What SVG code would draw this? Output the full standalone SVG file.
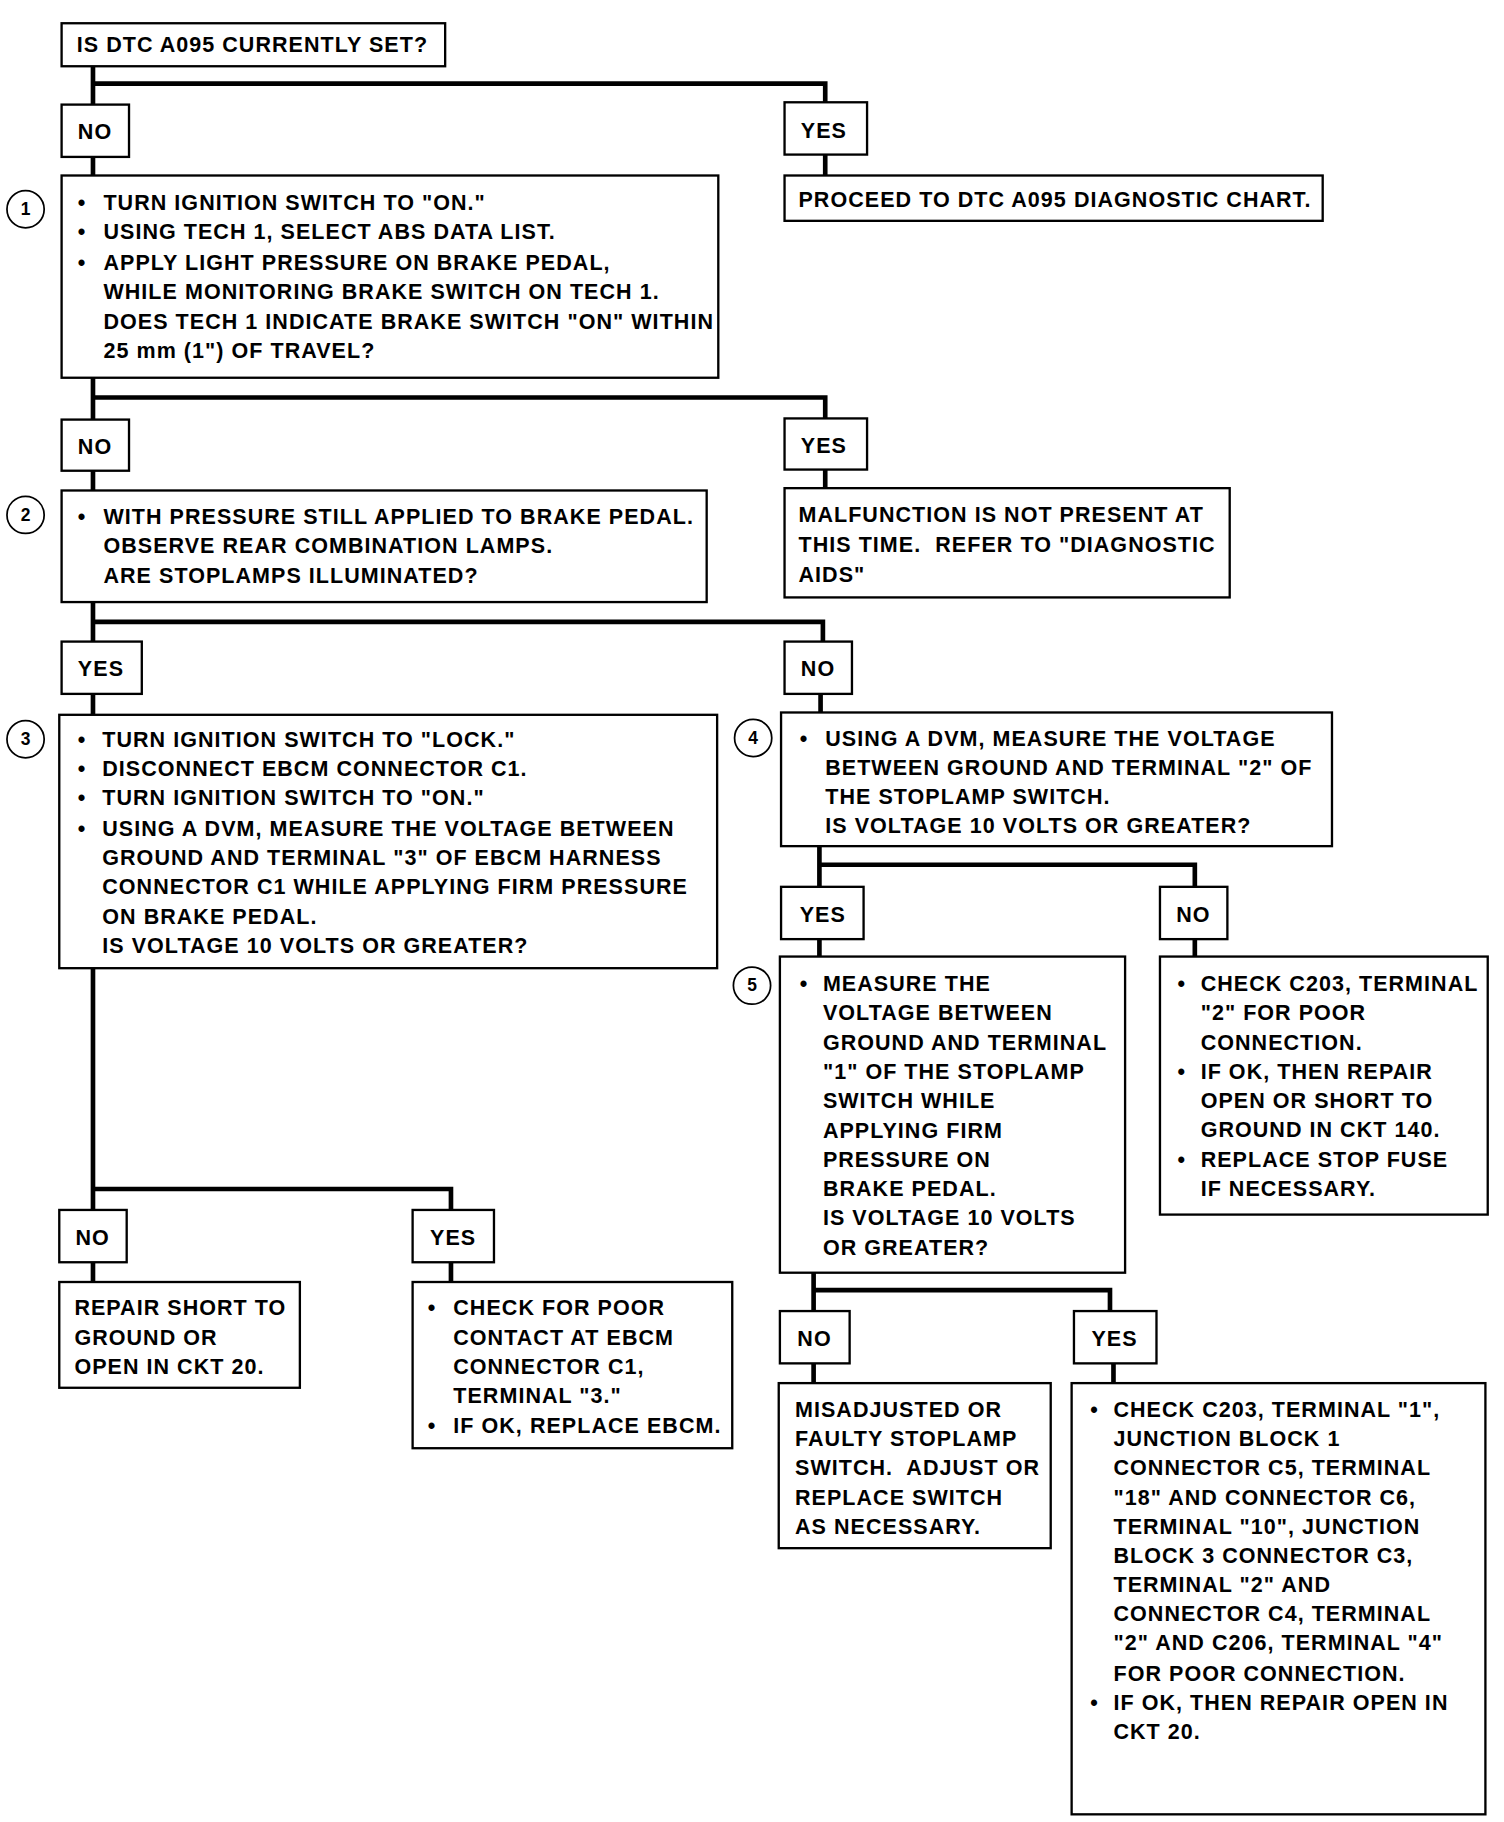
<svg xmlns="http://www.w3.org/2000/svg" width="1504" height="1822" viewBox="0 0 1504 1822">
<style>
.box{fill:#fff;stroke:#000;stroke-width:2}
.t{font-family:"Liberation Sans",Arial,sans-serif;font-weight:bold;font-size:18.5px;letter-spacing:0.9px;fill:#000}
.conn{stroke:#000;stroke-width:4;fill:none}
.num{fill:#fff;stroke:#000;stroke-width:1.5}
.n{font-family:"Liberation Sans",Arial,sans-serif;font-weight:bold;font-size:15px;fill:#000;text-anchor:middle}
</style>
<rect width="1504" height="1822" fill="#fff"/>
<g transform="scale(1.16229)">
<g id="connectors">
<path class="conn" d="M80 57 V90 M80 72 H710 V88 M80 135 V151 M710 133 V151"/>
<path class="conn" d="M80 325 V361 M80 342 H710 V360 M80 405 V422 M710 404 V420"/>
<path class="conn" d="M80 518 V552 M80 535 H708 V552 M80 597 V615 M706 597 V613"/>
<path class="conn" d="M80 833 V1041 M80 1023 H388 V1041 M80 1086 V1103 M388 1086 V1103"/>
<path class="conn" d="M705 728 V763 M705 744 H1028 V763 M705 808 V823 M1028 808 V823"/>
<path class="conn" d="M700 1095 V1128 M700 1110 H955 V1129 M700 1173 V1190 M958 1173 V1190"/>
</g>
<g id="start"><rect class="box" x="53" y="20" width="330" height="37"/><text class="t" x="66" y="45">IS DTC A095 CURRENTLY SET?</text></g>
<g id="no1"><rect class="box" x="53" y="90" width="58" height="45"/><text class="t" x="67" y="120">NO</text></g>
<g id="yes1"><rect class="box" x="675" y="88" width="71" height="45"/><text class="t" x="689" y="119">YES</text></g>
<g id="proceed"><rect class="box" x="675" y="151" width="463" height="39"/><text class="t" x="687" y="178">PROCEED TO DTC A095 DIAGNOSTIC CHART.</text></g>
<g id="step1">
<rect class="box" x="53" y="151" width="565" height="174"/>
<circle class="num" cx="22" cy="180" r="16"/><text class="n" x="22" y="185">1</text>
<text class="t" x="67" y="181">•</text><text class="t" x="89" y="181">TURN IGNITION SWITCH TO "ON."</text>
<text class="t" x="67" y="206">•</text><text class="t" x="89" y="206">USING TECH 1, SELECT ABS DATA LIST.</text>
<text class="t" x="67" y="232">•</text><text class="t" x="89" y="232">APPLY LIGHT PRESSURE ON BRAKE PEDAL,</text>
<text class="t" x="89" y="257">WHILE MONITORING BRAKE SWITCH ON TECH 1.</text>
<text class="t" x="89" y="283">DOES TECH 1 INDICATE BRAKE SWITCH "ON" WITHIN</text>
<text class="t" x="89" y="308">25 mm (1") OF TRAVEL?</text>
</g>
<g id="no2"><rect class="box" x="53" y="361" width="58" height="44"/><text class="t" x="67" y="391">NO</text></g>
<g id="yes2"><rect class="box" x="675" y="360" width="71" height="44"/><text class="t" x="689" y="390">YES</text></g>
<g id="step2">
<rect class="box" x="53" y="422" width="555" height="96"/>
<circle class="num" cx="22" cy="443" r="16"/><text class="n" x="22" y="448">2</text>
<text class="t" x="67" y="451">•</text><text class="t" x="89" y="451">WITH PRESSURE STILL APPLIED TO BRAKE PEDAL.</text>
<text class="t" x="89" y="476">OBSERVE REAR COMBINATION LAMPS.</text>
<text class="t" x="89" y="502">ARE STOPLAMPS ILLUMINATED?</text>
</g>
<g id="malfunction">
<rect class="box" x="675" y="420" width="383" height="94"/>
<text class="t" x="687" y="449">MALFUNCTION IS NOT PRESENT AT</text>
<text class="t" x="687" y="475">THIS TIME.&#160; REFER TO "DIAGNOSTIC</text>
<text class="t" x="687" y="501">AIDS"</text>
</g>
<g id="yes3"><rect class="box" x="53" y="552" width="69" height="45"/><text class="t" x="67" y="582">YES</text></g>
<g id="no3"><rect class="box" x="675" y="552" width="58" height="45"/><text class="t" x="689" y="582">NO</text></g>
<g id="step3">
<rect class="box" x="51" y="615" width="566" height="218"/>
<circle class="num" cx="22" cy="636" r="16"/><text class="n" x="22" y="641">3</text>
<text class="t" x="67" y="643">•</text><text class="t" x="88" y="643">TURN IGNITION SWITCH TO "LOCK."</text>
<text class="t" x="67" y="668">•</text><text class="t" x="88" y="668">DISCONNECT EBCM CONNECTOR C1.</text>
<text class="t" x="67" y="693">•</text><text class="t" x="88" y="693">TURN IGNITION SWITCH TO "ON."</text>
<text class="t" x="67" y="719">•</text><text class="t" x="88" y="719">USING A DVM, MEASURE THE VOLTAGE BETWEEN</text>
<text class="t" x="88" y="744">GROUND AND TERMINAL "3" OF EBCM HARNESS</text>
<text class="t" x="88" y="769">CONNECTOR C1 WHILE APPLYING FIRM PRESSURE</text>
<text class="t" x="88" y="795">ON BRAKE PEDAL.</text>
<text class="t" x="88" y="820">IS VOLTAGE 10 VOLTS OR GREATER?</text>
</g>
<g id="step4">
<rect class="box" x="672" y="613" width="474" height="115"/>
<circle class="num" cx="648" cy="635" r="16"/><text class="n" x="648" y="640">4</text>
<text class="t" x="688" y="642">•</text><text class="t" x="710" y="642">USING A DVM, MEASURE THE VOLTAGE</text>
<text class="t" x="710" y="667">BETWEEN GROUND AND TERMINAL "2" OF</text>
<text class="t" x="710" y="692">THE STOPLAMP SWITCH.</text>
<text class="t" x="710" y="717">IS VOLTAGE 10 VOLTS OR GREATER?</text>
</g>
<g id="no4"><rect class="box" x="51" y="1041" width="58" height="45"/><text class="t" x="65" y="1071">NO</text></g>
<g id="yes4"><rect class="box" x="355" y="1041" width="70" height="45"/><text class="t" x="370" y="1071">YES</text></g>
<g id="repair20">
<rect class="box" x="51" y="1103" width="207" height="91"/>
<text class="t" x="64" y="1131">REPAIR SHORT TO</text>
<text class="t" x="64" y="1157">GROUND OR</text>
<text class="t" x="64" y="1182">OPEN IN CKT 20.</text>
</g>
<g id="checkEBCM">
<rect class="box" x="355" y="1103" width="275" height="143"/>
<text class="t" x="368" y="1131">•</text><text class="t" x="390" y="1131">CHECK FOR POOR</text>
<text class="t" x="390" y="1157">CONTACT AT EBCM</text>
<text class="t" x="390" y="1182">CONNECTOR C1,</text>
<text class="t" x="390" y="1207">TERMINAL "3."</text>
<text class="t" x="368" y="1233">•</text><text class="t" x="390" y="1233">IF OK, REPLACE EBCM.</text>
</g>
<g id="yes5"><rect class="box" x="672" y="763" width="71" height="45"/><text class="t" x="688" y="793">YES</text></g>
<g id="no5"><rect class="box" x="998" y="763" width="58" height="45"/><text class="t" x="1012" y="793">NO</text></g>
<g id="step5">
<rect class="box" x="671" y="823" width="297" height="272"/>
<circle class="num" cx="647" cy="848" r="16"/><text class="n" x="647" y="853">5</text>
<text class="t" x="688" y="853">•</text><text class="t" x="708" y="853">MEASURE THE</text>
<text class="t" x="708" y="878">VOLTAGE BETWEEN</text>
<text class="t" x="708" y="903">GROUND AND TERMINAL</text>
<text class="t" x="708" y="928">"1" OF THE STOPLAMP</text>
<text class="t" x="708" y="953">SWITCH WHILE</text>
<text class="t" x="708" y="979">APPLYING FIRM</text>
<text class="t" x="708" y="1004">PRESSURE ON</text>
<text class="t" x="708" y="1029">BRAKE PEDAL.</text>
<text class="t" x="708" y="1054">IS VOLTAGE 10 VOLTS</text>
<text class="t" x="708" y="1080">OR GREATER?</text>
</g>
<g id="checkC203t2">
<rect class="box" x="998" y="823" width="282" height="222"/>
<text class="t" x="1013" y="853">•</text><text class="t" x="1033" y="853">CHECK C203, TERMINAL</text>
<text class="t" x="1033" y="878">"2" FOR POOR</text>
<text class="t" x="1033" y="903">CONNECTION.</text>
<text class="t" x="1013" y="928">•</text><text class="t" x="1033" y="928">IF OK, THEN REPAIR</text>
<text class="t" x="1033" y="953">OPEN OR SHORT TO</text>
<text class="t" x="1033" y="978">GROUND IN CKT 140.</text>
<text class="t" x="1013" y="1004">•</text><text class="t" x="1033" y="1004">REPLACE STOP FUSE</text>
<text class="t" x="1033" y="1029">IF NECESSARY.</text>
</g>
<g id="no6"><rect class="box" x="671" y="1128" width="60" height="45"/><text class="t" x="686" y="1158">NO</text></g>
<g id="yes6"><rect class="box" x="924" y="1128" width="71" height="45"/><text class="t" x="939" y="1158">YES</text></g>
<g id="misadjusted">
<rect class="box" x="670" y="1190" width="234" height="142"/>
<text class="t" x="684" y="1219">MISADJUSTED OR</text>
<text class="t" x="684" y="1244">FAULTY STOPLAMP</text>
<text class="t" x="684" y="1269">SWITCH.&#160; ADJUST OR</text>
<text class="t" x="684" y="1295">REPLACE SWITCH</text>
<text class="t" x="684" y="1320">AS NECESSARY.</text>
</g>
<g id="checkC203t1">
<rect class="box" x="922" y="1190" width="356" height="371"/>
<text class="t" x="938" y="1219">•</text><text class="t" x="958" y="1219">CHECK C203, TERMINAL "1",</text>
<text class="t" x="958" y="1244">JUNCTION BLOCK 1</text>
<text class="t" x="958" y="1269">CONNECTOR C5, TERMINAL</text>
<text class="t" x="958" y="1295">"18" AND CONNECTOR C6,</text>
<text class="t" x="958" y="1320">TERMINAL "10", JUNCTION</text>
<text class="t" x="958" y="1345">BLOCK 3 CONNECTOR C3,</text>
<text class="t" x="958" y="1370">TERMINAL "2" AND</text>
<text class="t" x="958" y="1395">CONNECTOR C4, TERMINAL</text>
<text class="t" x="958" y="1420">"2" AND C206, TERMINAL "4"</text>
<text class="t" x="958" y="1446">FOR POOR CONNECTION.</text>
<text class="t" x="938" y="1471">•</text><text class="t" x="958" y="1471">IF OK, THEN REPAIR OPEN IN</text>
<text class="t" x="958" y="1496">CKT 20.</text>
</g>
</g>
</svg>
